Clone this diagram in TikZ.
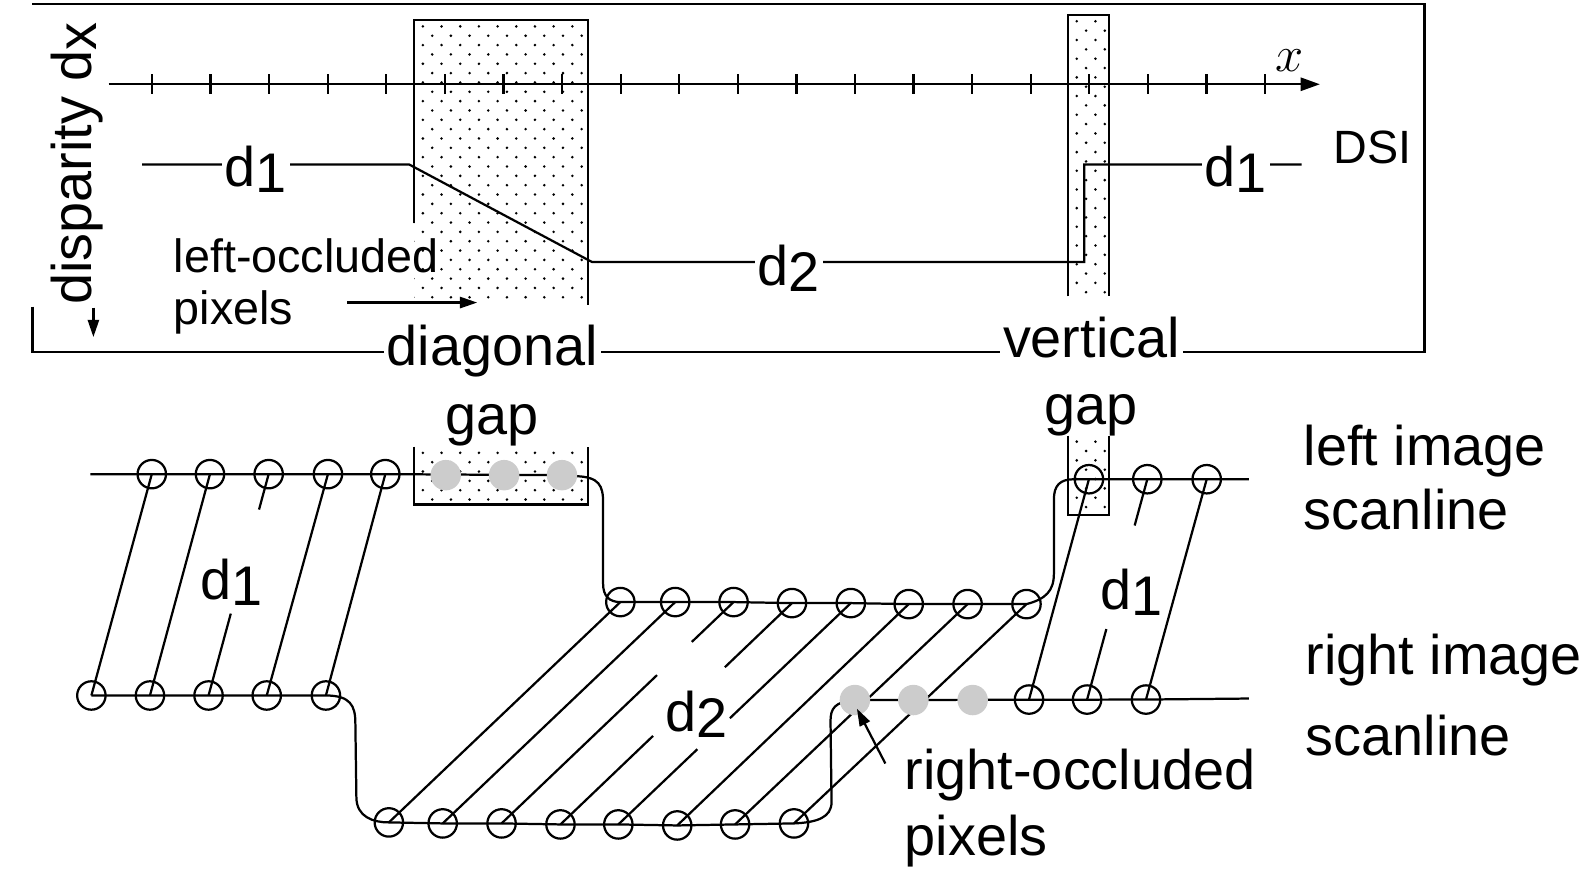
\documentclass[tikz,border=0pt]{standalone}
\usepackage{fontspec}
\setmainfont{Liberation Sans}
\usetikzlibrary{arrows.meta,calc}
\newcommand\fbig{\fontsize{27.5pt}{33pt}\selectfont}
\newcommand\fsmall{\fontsize{23pt}{27pt}\selectfont}
\newcommand\stipple[4]{%
  \begin{scope}
    \clip (#1,#2) rectangle (#3,#4);
    \foreach \jj in {0,...,34}{%
      \foreach \ii in {0,...,10}{%
        \fill ({#1+8.5+18.4*\ii-9.2*mod(\jj,2)},{#2+6+9.2*\jj}) circle[radius=0.7pt];}}
  \end{scope}}
\newcommand\dsub[1]{d\raisebox{-0.11em}{#1}}
\begin{document}
\begin{tikzpicture}[x=0.5pt,y=-0.5pt,line width=1.1pt,
  pix/.style={circle,draw,minimum size=14pt,inner sep=0pt,line width=1.1pt},
  occ/.style={circle,fill=black!20,minimum size=15pt,inner sep=0pt},
  lbl/.style={font=\fbig,inner sep=0pt},
  wlbl/.style={font=\fbig,fill=white,inner xsep=1.5pt,inner ysep=0pt},
  sml/.style={font=\fsmall,inner sep=0pt},
  tip/.style={-{Triangle[length=8.5pt,width=5.5pt]}}]
\useasboundingbox (0,0) rectangle (1568,866);

% dotted gap regions
\stipple{408}{20}{579}{300}
\stipple{1052}{15}{1092}{292}
\stipple{408}{440}{579}{497}
\stipple{1052}{429}{1092}{507}
\draw (408,220) -- (408,20) -- (579,20) -- (579,300);
\draw (1052,292) -- (1052,15) -- (1092,15) -- (1092,292);
\draw (408,440) -- (408,497) -- (579,497) -- (579,440);
\draw (1052,429) -- (1052,507) -- (1092,507) -- (1092,429);

% frame
\draw (32,302) -- (32,347) -- (1403,347) -- (1403,4) -- (32,4);

% axis
\coordinate (axs) at (107,83);
\coordinate (axe) at (1300,83);
\draw[-{Triangle[length=9.5pt,width=6.5pt]}] (axs) -- (axe);
\foreach \k in {0,...,19} \draw ({149.7+57.7*\k},73) -- ({149.7+57.7*\k},93);
\node[font=\fontsize{26pt}{30pt}\selectfont,inner sep=0pt] (xl) at (1270,60) {$x$};

% DSI path
\draw (140,162) -- (403,162) -- (583,258) -- (1068,258) -- (1068,162) -- (1282,162);
\node[wlbl,anchor=base] (dA) at (252,184) {\dsub{1}};
\node[wlbl,anchor=base] (dB) at (777,281) {\dsub{2}};
\node[wlbl,anchor=base] (dC) at (1217,184) {\dsub{1}};
\node[sml] (dsi) at (1352,145) {DSI};

\node[lbl,rotate=90] (disp) at (76,161) {disparity d\raisebox{-0.08em}{x}};
\coordinate (da1) at (92,303);
\coordinate (da2) at (92,332);
\draw[tip] (da1) -- (da2);

\node[sml,anchor=base west] (lo1) at (170,268) {left-occluded};
\node[sml,anchor=base west] (lo2) at (170,320) {pixels};
\coordinate (la1) at (342,298);
\coordinate (la2) at (470,298);
\draw[tip] (la1) -- (la2);

\node[wlbl,anchor=base] (diag) at (485,360) {diagonal};
\node[wlbl,anchor=base] (vert) at (1075,352) {vertical};
\node[lbl,anchor=base] (gapA) at (485,428) {gap};
\node[lbl,anchor=base] (gapB) at (1075,418) {gap};

% scanline labels
\node[lbl,anchor=base west] (lis1) at (1283,458) {left image};
\node[lbl,anchor=base west] (lis2) at (1283,522) {scanline};
\node[lbl,anchor=base west] (ris1) at (1285,664) {right image};
\node[lbl,anchor=base west] (ris2) at (1285,744) {scanline};
\node[lbl,anchor=base west] (ro1) at (890,778) {right-occluded};
\node[lbl,anchor=base west] (ro2) at (890,843) {pixels};

% pixels
\foreach \n/\x in {1/149.5,2/206.8,3/264.6,4/323,5/379.5} \node[pix] (L\n) at (\x,467) {};
\foreach \n/\x in {1/90,2/147.7,3/205.4,4/262.7,5/321} \node[pix] (R\n) at (\x,685) {};
\foreach \n/\x/\y in {1/611/593,2/665/593,3/722.5/593,4/780/594,5/838/594,6/895/595,7/953/595,8/1011/595}
  \node[pix] (M\n) at (\x,\y) {};
\foreach \n/\x/\y in {1/383/810,2/436/811,3/494/811,4/552/812,5/609/812,6/667/813,7/724/812,8/782/811}
  \node[pix] (B\n) at (\x,\y) {};
\foreach \n/\x in {1/1072.5,2/1130,3/1188.5} \node[pix] (T\n) at (\x,472) {};
\foreach \n/\x in {1/1013.5,2/1070.7,3/1128.7} \node[pix] (S\n) at (\x,689) {};
\foreach \n/\x in {1/439,2/496.5,3/553.5} \coordinate (G\n) at (\x,468);
\foreach \n/\x in {1/842,2/899.6,3/958} \coordinate (H\n) at (\x,689.5);
\coordinate (ls) at (89,467);
\coordinate (le) at (1230,472);
\coordinate (re) at (1230,688);

% left image scanline
\draw (ls) -- (L5.center) -- (G3) -- (568,469)
  .. controls (590,470) and (594,478) .. (594,495) -- (594,575)
  .. controls (594,587) and (600,593) .. (M1.center)
  -- (M2.center) -- (M3.center) -- (M4.center) -- (M5.center) -- (M6.center) -- (M7.center) -- (M8.center)
  .. controls (1030,590) and (1038,582) .. (1038,565) -- (1038,492)
  .. controls (1038,478) and (1044,472) .. (1058,472) -- (T3.center) -- (le);

% right image scanline
\draw (R1.center) -- (R5.center)
  .. controls (345,685) and (350,695) .. (350,712) -- (351,785)
  .. controls (351,805) and (368,810) .. (B1.center)
  -- (B2.center) -- (B3.center) -- (B4.center) -- (B5.center) -- (B6.center) -- (B7.center) -- (B8.center)
  .. controls (805,810) and (819,805) .. (819,790) -- (818,710)
  .. controls (818,698) and (822,691) .. (H1) -- (S3.center) -- (re);

% correspondences
\foreach \n in {1,2,4,5} \draw (L\n.center) -- (R\n.center);
\draw (L3.center) -- ($(L3.center)!0.16!(R3.center)$) ($(L3.center)!0.63!(R3.center)$) -- (R3.center);
\foreach \n in {1,2,6,7,8} \draw (M\n.center) -- (B\n.center);
\draw (M3.center) -- ($(M3.center)!0.18!(B3.center)$) ($(M3.center)!0.33!(B3.center)$) -- (B3.center);
\draw (M4.center) -- ($(M4.center)!0.29!(B4.center)$) ($(M4.center)!0.60!(B4.center)$) -- (B4.center);
\draw (M5.center) -- ($(M5.center)!0.52!(B5.center)$) ($(M5.center)!0.66!(B5.center)$) -- (B5.center);
\draw (T1.center) -- (S1.center);
\draw (T3.center) -- (S3.center);
\draw (T2.center) -- ($(T2.center)!0.21!(S2.center)$) ($(T2.center)!0.68!(S2.center)$) -- (S2.center);

% occluded pixels
\foreach \g in {G1,G2,G3,H1,H2,H3} \node[occ] (o\g) at (\g) {};
\coordinate (ra1) at (872,752);
\coordinate (ra2) at (844,698);
\draw[tip] (ra1) -- (ra2);

\node[lbl,anchor=base] (dD) at (228,590) {\dsub{1}};
\node[lbl,anchor=base] (dE) at (686,720) {\dsub{2}};
\node[lbl,anchor=base] (dF) at (1114,600) {\dsub{1}};
\end{tikzpicture}
\end{document}
